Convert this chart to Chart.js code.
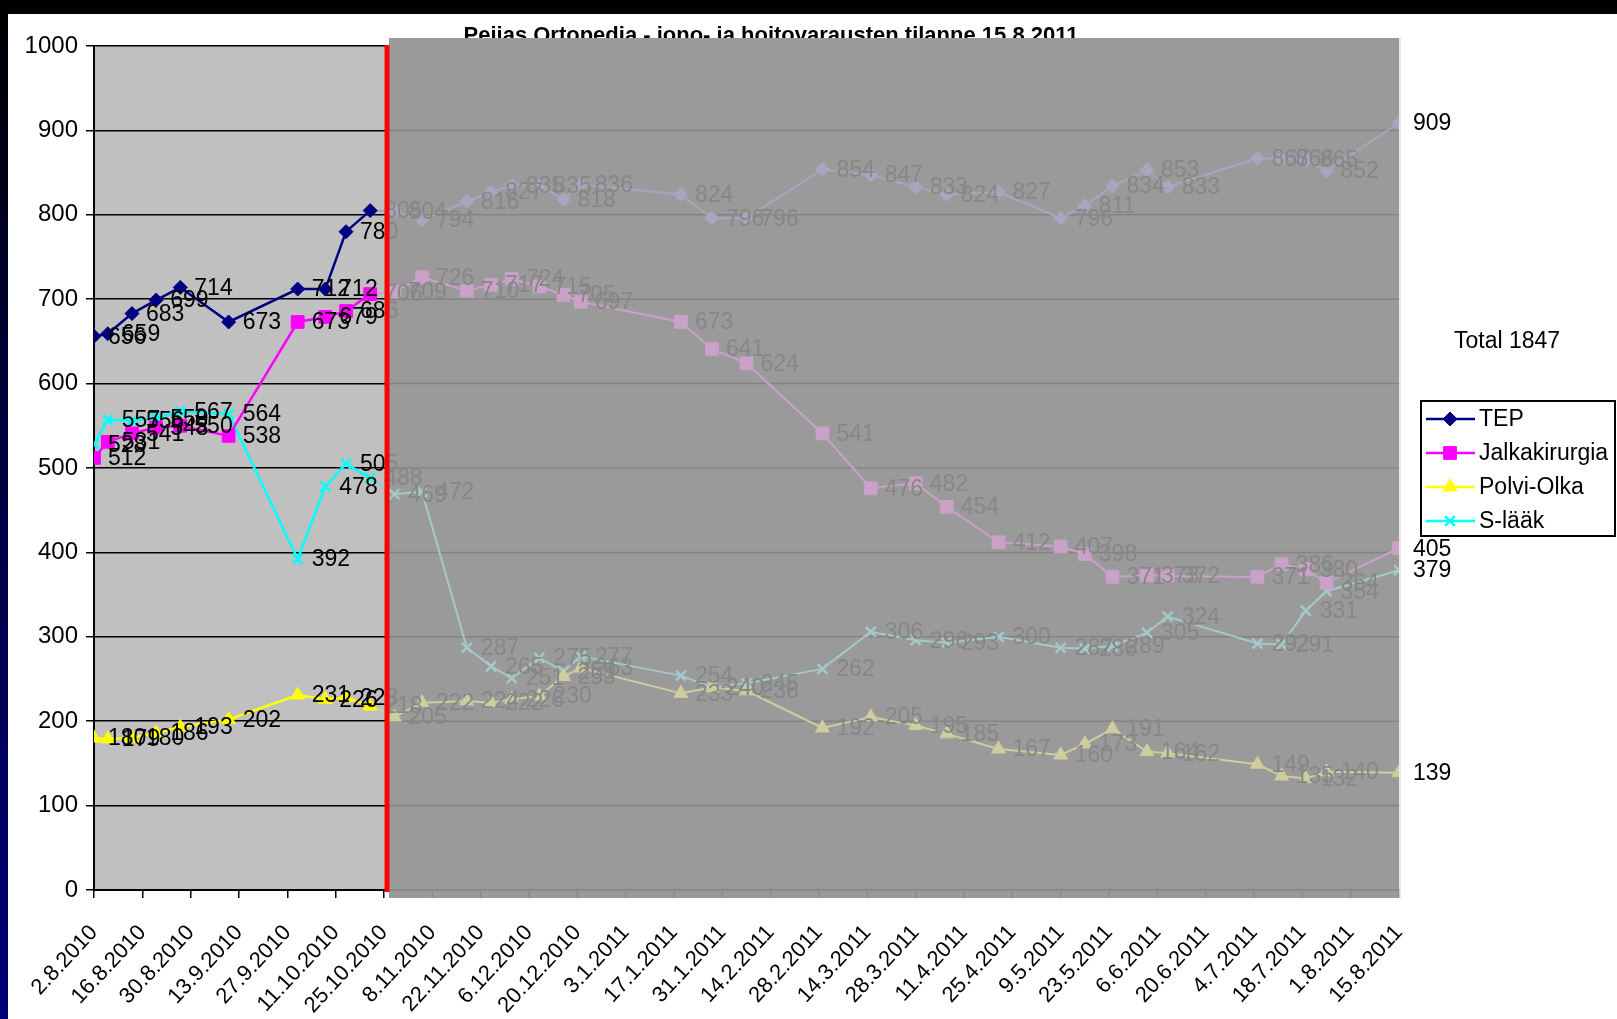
<!DOCTYPE html>
<html lang="fi">
<head>
<meta charset="UTF-8">
<title>Peijas Ortopedia - jono- ja hoitovaraukset</title>
<script src="https://cdn.jsdelivr.net/npm/chart.js"></script>
<style>
  html, body { margin: 0; padding: 0; background: #fff; overflow: hidden; }
  canvas { display: block; }
</style>
</head>
<body>
<canvas id="jonoChart" width="1617" height="1019"></canvas>
<script>
// measurement dates (d.m.yyyy)
const dates = [
  '2.8.2010', '6.8.2010', '13.8.2010', '20.8.2010', '27.8.2010', '10.9.2010',
  '30.9.2010', '8.10.2010', '14.10.2010', '21.10.2010', '28.10.2010', '5.11.2010',
  '18.11.2010', '25.11.2010', '1.12.2010', '9.12.2010', '16.12.2010', '21.12.2010',
  '19.1.2011', '28.1.2011', '7.2.2011', '1.3.2011', '15.3.2011', '28.3.2011',
  '6.4.2011', '21.4.2011', '9.5.2011', '16.5.2011', '24.5.2011', '3.6.2011',
  '9.6.2011', '5.7.2011', '12.7.2011', '19.7.2011', '25.7.2011', '15.8.2011'
];

const tep = [656, 659, 683, 699, 714, 673, 712, 712, 780, 805, 804, 794, 816, 827, 835, 835, 818, 836,
  824, 796, 796, 854, 847, 833, 824, 827, 796, 811, 834, 853, 833, 867, 866, 865, 852, 909];
const jalkakirurgia = [512, 531, 541, 548, 550, 538, 673, 679, 686, 706, 709, 726, 710, 717, 724, 715, 705, 697,
  673, 641, 624, 541, 476, 482, 454, 412, 407, 398, 371, 373, 372, 371, 386, 380, 364, 405];
const polviOlka = [180, 179, 180, 186, 193, 202, 231, 226, 228, 218, 205, 222, 224, 222, 226, 230, 253, 263,
  233, 240, 236, 192, 205, 195, 185, 167, 160, 173, 191, 164, 162, 149, 135, 132, 140, 139];
const sLaak = [528, 557, 556, 559, 567, 564, 392, 478, 505, 488, 469, 472, 287, 265, 251, 275, 259, 277,
  254, 240, 245, 262, 306, 296, 293, 300, 287, 286, 289, 305, 324, 292, 291, 331, 354, 379];

const seriesNames = ['TEP', 'Jalkakirurgia', 'Polvi-Olka', 'S-lääk'];
const xTickLabels = [
  '2.8.2010', '16.8.2010', '30.8.2010', '13.9.2010', '27.9.2010', '11.10.2010', '25.10.2010',
  '8.11.2010', '22.11.2010', '6.12.2010', '20.12.2010', '3.1.2011', '17.1.2011', '31.1.2011',
  '14.2.2011', '28.2.2011', '14.3.2011', '28.3.2011', '11.4.2011', '25.4.2011', '9.5.2011',
  '23.5.2011', '6.6.2011', '20.6.2011', '4.7.2011', '18.7.2011', '1.8.2011', '15.8.2011'
];
const cutoffDate = '25.10.2010';
const chartTitle = 'Peijas Ortopedia - jono- ja hoitovarausten tilanne 15.8.2011';
const totalText = 'Total 1847';

const FONT = '"Liberation Sans", Arial, sans-serif';

// days since first date
function dayOf(str) {
  const p = str.split('.').map(Number);
  const p0 = dates[0].split('.').map(Number);
  return (Date.UTC(p[2], p[1] - 1, p[0]) - Date.UTC(p0[2], p0[1] - 1, p0[0])) / 86400000;
}
const days = dates.map(dayOf);
const cutoffDay = dayOf(cutoffDate);
const isFaded = i => days[i] > cutoffDay;

const styles = [
  { color: '#000080', fade: '#a6a6c0', shape: 'rectRot', radius: 7 },
  { color: '#ff00ff', fade: '#c9a1c9', shape: 'rect', radius: 9 },
  { color: '#ffff00', fade: '#cdcd9e', shape: 'triangle', radius: 8 },
  { color: '#00ffff', fade: '#a3c9c9', shape: 'crossRot', radius: 7 }
];
const values = [tep, jalkakirurgia, polviOlka, sLaak];

const datasets = values.map((vals, k) => {
  const s = styles[k];
  return {
    label: seriesNames[k],
    data: vals.map((v, i) => ({ x: days[i], y: v })),
    borderColor: s.color,
    borderWidth: 2.5,
    pointStyle: s.shape,
    pointRadius: s.radius,
    pointBorderWidth: s.shape === 'crossRot' ? 2.5 : 1,
    pointBackgroundColor: c => isFaded(c.dataIndex) ? s.fade : s.color,
    pointBorderColor: c => isFaded(c.dataIndex) ? s.fade : s.color,
    segment: {
      borderColor: c => isFaded(c.p1DataIndex) ? s.fade : undefined,
      borderWidth: c => isFaded(c.p1DataIndex) ? 2 : undefined
    },
    tension: 0,
    fill: false
  };
});

function redLineX(chart) {
  return chart.scales.x.getPixelForValue(cutoffDay) + 3;
}

function drawLabels(chart, color, x0, x1) {
  const ctx = chart.ctx;
  ctx.save();
  ctx.beginPath();
  ctx.rect(x0, 0, x1 - x0, chart.height);
  ctx.clip();
  ctx.fillStyle = color;
  ctx.font = '23px ' + FONT;
  ctx.textAlign = 'left';
  ctx.textBaseline = 'middle';
  chart.data.datasets.forEach((ds, k) => {
    chart.getDatasetMeta(k).data.forEach((el, i) => {
      ctx.fillText(String(values[k][i]), el.x + 14, el.y + 1);
    });
  });
  ctx.restore();
}

const slidePlugin = {
  id: 'slide',
  beforeDraw(chart) {
    const { ctx, chartArea: a } = chart;
    const rx = redLineX(chart);
    ctx.save();
    ctx.fillStyle = '#fff';
    ctx.fillRect(0, 0, chart.width, chart.height);
    ctx.fillStyle = '#000';
    ctx.fillRect(0, 0, chart.width, 14);
    const g = ctx.createLinearGradient(0, 0, 0, chart.height);
    g.addColorStop(0, '#000');
    g.addColorStop(0.4, '#00003a');
    g.addColorStop(1, '#000078');
    ctx.fillStyle = g;
    ctx.fillRect(0, 0, 8, chart.height);
    ctx.fillStyle = '#c0c0c0';
    ctx.fillRect(a.left, a.top, rx - a.left, a.bottom - a.top);
    ctx.fillStyle = '#000';
    ctx.font = 'bold 22px ' + FONT;
    ctx.textAlign = 'center';
    ctx.fillText(chartTitle, 771, 42);
    ctx.restore();
  },
  beforeDatasetsDraw(chart) {
    const { ctx, chartArea: a, scales: { x, y } } = chart;
    const ox = redLineX(chart) + 2;
    ctx.save();
    ctx.fillStyle = '#9a9a9a';
    ctx.fillRect(ox, 38, a.right - ox, 898 - 38);
    ctx.strokeStyle = '#838383';
    ctx.lineWidth = 1.5;
    y.ticks.forEach(t => {
      if (t.value >= 1000) return;
      const py = y.getPixelForValue(t.value);
      ctx.beginPath();
      ctx.moveTo(ox, py);
      ctx.lineTo(a.right, py);
      ctx.stroke();
    });
    ctx.strokeStyle = '#8a8a8a';
    x.ticks.forEach(t => {
      const px = x.getPixelForValue(t.value);
      if (px <= ox) return;
      ctx.beginPath();
      ctx.moveTo(px, a.bottom);
      ctx.lineTo(px, a.bottom + 8);
      ctx.stroke();
    });
    ctx.strokeStyle = '#e0e0e0';
    ctx.beginPath();
    ctx.moveTo(a.right + 1, 38);
    ctx.lineTo(a.right + 1, 898);
    ctx.stroke();
    ctx.restore();
  },
  afterDatasetsDraw(chart) {
    const { ctx, chartArea: a } = chart;
    const rx = redLineX(chart);
    drawLabels(chart, '#000', 0, rx + 2);
    drawLabels(chart, '#878787', rx + 2, a.right + 1);
    drawLabels(chart, '#000', a.right + 1, chart.width);
    ctx.save();
    ctx.strokeStyle = '#ff0000';
    ctx.lineWidth = 5;
    ctx.beginPath();
    ctx.moveTo(rx, a.top - 1);
    ctx.lineTo(rx, 892);
    ctx.stroke();
    ctx.restore();
  },
  afterDraw(chart) {
    const ctx = chart.ctx;
    ctx.save();
    ctx.fillStyle = '#000';
    ctx.font = '23px ' + FONT;
    ctx.textAlign = 'left';
    ctx.textBaseline = 'alphabetic';
    ctx.fillText(totalText, 1454, 348);

    // legend
    ctx.strokeStyle = '#000';
    ctx.lineWidth = 2;
    ctx.strokeRect(1421, 401, 194, 135);
    const drawPoint = Chart.helpers && Chart.helpers.drawPoint;
    chart.data.datasets.forEach((ds, k) => {
      const s = styles[k];
      const ly = 419 + k * 34;
      ctx.strokeStyle = s.color;
      ctx.lineWidth = 2.5;
      ctx.beginPath();
      ctx.moveTo(1426, ly);
      ctx.lineTo(1475, ly);
      ctx.stroke();
      ctx.fillStyle = s.color;
      ctx.lineWidth = s.shape === 'crossRot' ? 2.5 : 1;
      if (drawPoint) {
        drawPoint(ctx, { pointStyle: s.shape, radius: s.radius, rotation: 0, borderWidth: ctx.lineWidth }, 1450, ly);
      }
      ctx.fillStyle = '#000';
      ctx.textBaseline = 'middle';
      ctx.fillText(ds.label, 1479, ly + 1);
    });
    ctx.restore();
  }
};

new Chart(document.getElementById('jonoChart'), {
  type: 'line',
  data: { datasets },
  options: {
    responsive: false,
    devicePixelRatio: 1,
    animation: false,
    layout: { padding: { top: 46, right: 218, bottom: 0, left: 0 } },
    plugins: {
      legend: { display: false },
      tooltip: { enabled: false },
      title: { display: false }
    },
    scales: {
      x: {
        type: 'linear',
        min: 0,
        max: dayOf(xTickLabels[xTickLabels.length - 1]),
        afterBuildTicks: s => { s.ticks = xTickLabels.map(l => ({ value: dayOf(l) })); },
        afterFit: s => { s.height = 129; },
        ticks: {
          callback: (v, i) => xTickLabels[i],
          autoSkip: false,
          minRotation: 47,
          maxRotation: 47,
          padding: 22,
          color: '#000',
          font: { family: FONT, size: 22 }
        },
        grid: { drawOnChartArea: false, drawTicks: true, tickLength: 8, color: '#000', lineWidth: 1.5 },
        border: { color: '#000', width: 2 }
      },
      y: {
        min: 0,
        max: 1000,
        afterFit: s => { s.width = 94; },
        ticks: { stepSize: 100, padding: 8, color: '#000', font: { family: FONT, size: 24 }, callback: v => String(v) },
        grid: { color: '#000', lineWidth: 1.5, tickLength: 8 },
        border: { color: '#000', width: 2 }
      }
    }
  },
  plugins: [slidePlugin]
});
</script>
</body>
</html>
